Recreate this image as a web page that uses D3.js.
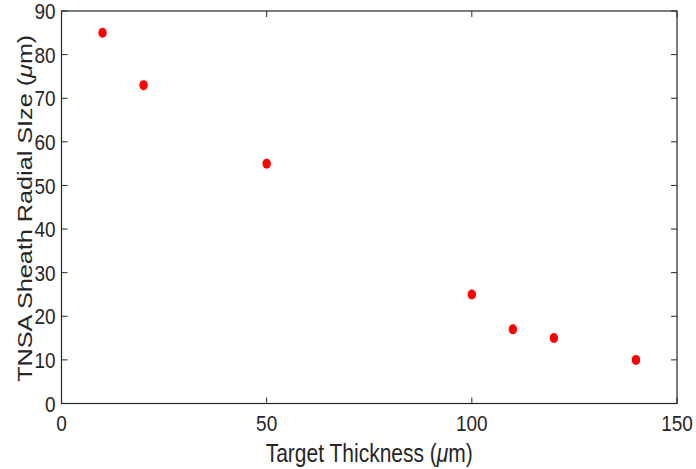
<!DOCTYPE html>
<html><head><meta charset="utf-8">
<script src="https://cdn.jsdelivr.net/npm/d3@7"></script>
<style>body{margin:0;background:#fff}svg{display:block}text{font-family:"Liberation Sans",Arial,sans-serif;fill:#262626}</style>
</head><body><svg id="c" width="696" height="469"></svg>
<script>
const thickness = [10, 20, 50, 100, 110, 120, 140];
const sheathSize = [85, 73, 55, 25, 17, 15, 10];
const xTicks = [0, 50, 100, 150];
const yTicks = [0, 10, 20, 30, 40, 50, 60, 70, 80, 90];

const svg = d3.select("#c");
const L = 61.5, R = 677, T = 11, B = 403.5;
const x = d3.scaleLinear().domain([0, 150]).range([L, R]);
const y = d3.scaleLinear().domain([0, 90]).range([B, T]);
const tl = 6;
const SY = 1.2;

const g = svg.append("g");
// ticks
const ax = g.append("g").attr("stroke", "#262626").attr("stroke-width", 1);
yTicks.forEach(v => {
  ax.append("line").attr("x1", L).attr("x2", L + tl).attr("y1", y(v)).attr("y2", y(v));
  ax.append("line").attr("x1", R).attr("x2", R - tl).attr("y1", y(v)).attr("y2", y(v));
});
xTicks.forEach(v => {
  ax.append("line").attr("x1", x(v)).attr("x2", x(v)).attr("y1", B).attr("y2", B - tl);
  ax.append("line").attr("x1", x(v)).attr("x2", x(v)).attr("y1", T).attr("y2", T + tl);
});
g.append("rect").attr("x", L).attr("y", T).attr("width", R - L).attr("height", B - T)
  .attr("fill", "none").attr("stroke", "#262626").attr("stroke-width", 1.2);

// tick labels
yTicks.forEach(v => {
  g.append("text").attr("transform", `translate(${L - 6},${y(v)}) scale(1,${SY})`).attr("dy", "0.36em")
    .attr("text-anchor", "end").attr("font-size", 19).text(v);
});
xTicks.forEach(v => {
  g.append("text").attr("transform", `translate(${x(v)},${B + 27.5}) scale(1,${SY})`)
    .attr("text-anchor", "middle").attr("font-size", 19).text(v);
});

// axis titles
const xt = g.append("text").attr("transform", `translate(${(L + R) / 2},461.5) scale(1,${SY})`)
  .attr("text-anchor", "middle").attr("font-size", 21);
xt.append("tspan").text("Target Thickness (");
xt.append("tspan").attr("font-style", "italic").text("μ");
xt.append("tspan").text("m)");

const yt = g.append("text").attr("transform", `translate(32,${(T + B) / 2 + 1}) scale(1,${SY}) rotate(-90)`)
  .attr("text-anchor", "middle").attr("font-size", 21);
yt.append("tspan").text("TNSA Sheath Radial SIze (");
yt.append("tspan").attr("font-style", "italic").text("μ");
yt.append("tspan").text("m)");

// points
g.append("g").selectAll("ellipse").data(thickness).join("ellipse")
  .attr("cx", (d) => x(d)).attr("cy", (d, i) => y(sheathSize[i]))
  .attr("rx", 4.2).attr("ry", 5).attr("fill", "#ff0000");
</script></body></html>
